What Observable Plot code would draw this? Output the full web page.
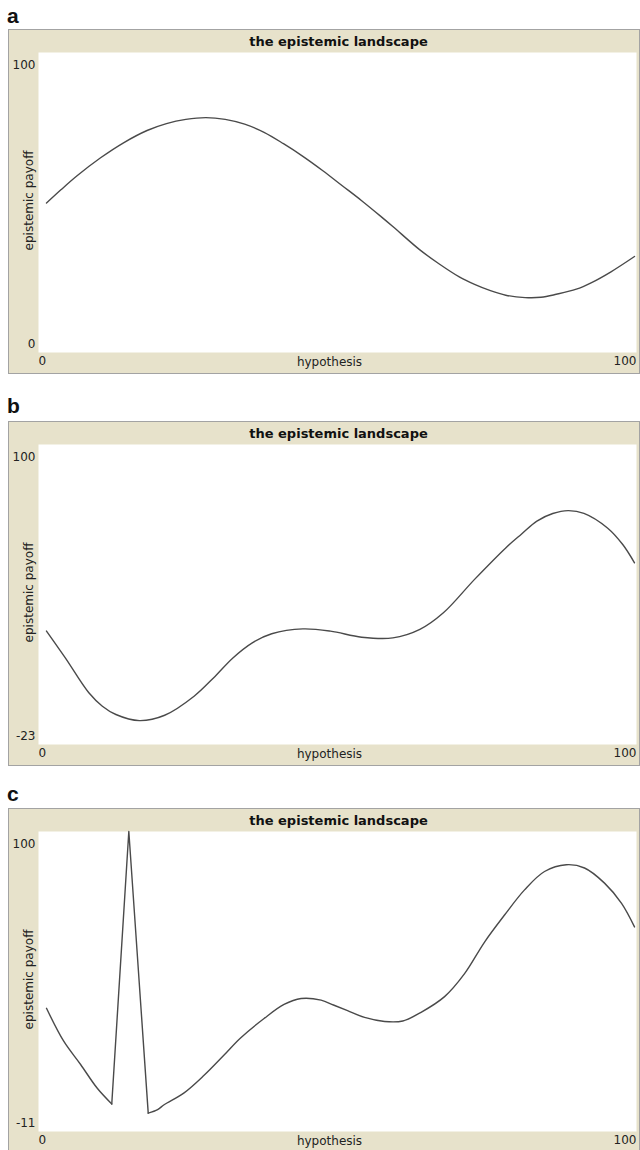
<!DOCTYPE html>
<html>
<head>
<meta charset="utf-8">
<script src="https://cdn.jsdelivr.net/npm/d3@7"></script>
<script src="https://cdn.jsdelivr.net/npm/@observablehq/plot@0.6"></script>
<style>
  html, body { margin: 0; padding: 0; background: #fff; }
  body { width: 640px; height: 1150px; overflow: hidden; position: relative; }
  .letter { position: absolute; left: 7px; font: bold 21px "Liberation Sans", Arial, sans-serif; line-height: 20px; color: #111; }
  .panel { position: absolute; left: 8px; width: 630px; height: 343px; border: 1px solid #a3a3a3; background: #E7E2CB; }
  .panel svg { display: block; }
</style>
</head>
<body>
<script>
// ---- data ----
const panelLetters = ["a", "b", "c"];
const plotTitle = "the epistemic landscape";
const xLabel = "hypothesis";
const yLabel = "epistemic payoff";
const xDomain = [0, 100];

const yDomainA = [0, 100];
const hypothesisA = [0, 2.5, 5.2, 9.2, 13.1, 17.1, 20.4, 23.7, 27.1, 30.4, 33.7, 37.0, 40.3, 43.6, 47.0, 50.3, 53.6, 56.9, 58.9, 63.5, 66.8, 70.2, 72.8, 75.5, 78.1, 81.4, 84.1, 86.7, 90.1, 92.7, 96.0, 100];
const payoffA = [49.8, 54.3, 58.9, 64.9, 69.9, 74.0, 76.3, 77.7, 78.3, 77.7, 76.1, 73.4, 69.6, 65.4, 60.6, 55.6, 50.6, 45.3, 42.0, 34.2, 29.5, 25.2, 22.7, 20.6, 19.1, 18.3, 18.4, 19.4, 21.1, 23.3, 26.9, 32.0];

const yDomainB = [-23, 100];
const hypothesisB = [0, 3.2, 7.2, 9.5, 11.8, 15.8, 20.1, 25.1, 28.4, 31.7, 35.0, 38.3, 43.6, 48.3, 53.6, 58.9, 63.5, 67.5, 72.8, 78.1, 80.8, 83.4, 86.1, 88.7, 91.4, 95.4, 98.0, 100];
const payoffB = [23.5, 12.5, -1.8, -7.3, -10.7, -13.2, -11.0, -3.2, 4.3, 12.5, 18.7, 22.4, 24.4, 23.5, 21.0, 20.7, 24.2, 31.0, 44.7, 57.6, 63.3, 68.6, 71.7, 72.9, 71.8, 65.8, 59.0, 51.5];

const yDomainC = [-11, 100];
const hypothesisC = [0, 2.9, 5.8, 8.6, 11.1, 14.0, 17.3, 18.9, 20.0, 23.4, 26.8, 30.2, 33.0, 37.0, 40.4, 43.3, 46.7, 48.8, 51.2, 54.1, 57.5, 60.6, 63.7, 67.7, 71.1, 74.5, 77.9, 81.3, 84.7, 88.4, 91.5, 94.9, 97.8, 100];
const payoffC = [34.6, 22.5, 13.8, 5.1, -0.8, 100, -4.2, -2.9, -1.1, 3.3, 9.8, 17.3, 23.6, 30.8, 36.0, 38.2, 37.6, 35.8, 33.7, 31.2, 29.7, 29.9, 33.1, 38.9, 47.4, 59.1, 69.1, 78.4, 85.2, 87.7, 86.5, 80.9, 73.4, 64.7];
// sharp spike in panel c: between these hypotheses the line is straight
const spikeC = [11.1, 17.3];

const panels = [
  {letter: panelLetters[0], xs: hypothesisA, ys: payoffA, yDomain: yDomainA, top: 29, letterTop: 6},
  {letter: panelLetters[1], xs: hypothesisB, ys: payoffB, yDomain: yDomainB, top: 421, letterTop: 396},
  {letter: panelLetters[2], xs: hypothesisC, ys: payoffC, yDomain: yDomainC, spike: spikeC, top: 808, letterTop: 784}
];

const fmt = d => String(d);
const lineStyle = {x: "x", y: "y", stroke: "#4a4a4a", strokeWidth: 1.4};

for (const p of panels) {
  const data = p.xs.map((x, i) => ({x, y: p.ys[i]}));
  let lineMarks;
  if (p.spike) {
    const [s0, s1] = p.spike;
    lineMarks = [
      Plot.line(data.filter(d => d.x <= s0), {...lineStyle, curve: "catmull-rom"}),
      Plot.line(data.filter(d => d.x >= s0 && d.x <= s1), {...lineStyle, curve: "linear"}),
      Plot.line(data.filter(d => d.x >= s1), {...lineStyle, curve: "catmull-rom"})
    ];
  } else {
    lineMarks = [Plot.line(data, {...lineStyle, curve: "catmull-rom"})];
  }
  const chart = Plot.plot({
    width: 630,
    height: 343,
    marginLeft: 29,
    marginRight: 3,
    marginTop: 22,
    marginBottom: 21,
    style: {background: "#E7E2CB", fontFamily: "'DejaVu Sans', sans-serif", fontSize: "12px", color: "#222", overflow: "visible"},
    x: {domain: xDomain, insetLeft: 8, insetRight: 2, axis: null},
    y: {domain: p.yDomain, axis: null},
    marks: [
      Plot.frame({fill: "white", stroke: "none"}),
      Plot.axisY([p.yDomain[1]], {tickSize: 0, tickPadding: 3, dy: 13, tickFormat: fmt, label: null, fill: "#222"}),
      Plot.axisY([p.yDomain[0]], {tickSize: 0, tickPadding: 3, dy: -8, tickFormat: fmt, label: null, fill: "#222"}),
      Plot.axisX([xDomain[0]], {tickSize: 0, tickPadding: 4, textAnchor: "start", dx: -8, tickFormat: fmt, label: null, fill: "#222"}),
      Plot.axisX([xDomain[1]], {tickSize: 0, tickPadding: 4, textAnchor: "end", dx: 2, tickFormat: fmt, label: null, fill: "#222"}),
      ...lineMarks,
      Plot.text([plotTitle], {frameAnchor: "top", textAnchor: "middle", lineAnchor: "middle", dy: -11, dx: 1, fontWeight: "bold", fontSize: 13, fill: "#111"}),
      Plot.text([xLabel], {frameAnchor: "bottom", textAnchor: "middle", lineAnchor: "middle", dy: 10, dx: -8, fontSize: 12, fill: "#222"}),
      Plot.text([yLabel], {frameAnchor: "left", textAnchor: "middle", lineAnchor: "middle", rotate: -90, dx: -9, dy: -2, fontSize: 12, fill: "#222"})
    ]
  });
  const lab = document.createElement("div");
  lab.className = "letter";
  lab.style.top = p.letterTop + "px";
  lab.textContent = p.letter;
  document.body.appendChild(lab);
  const box = document.createElement("div");
  box.className = "panel";
  box.style.top = p.top + "px";
  box.appendChild(chart);
  document.body.appendChild(box);
}
</script>
</body>
</html>
